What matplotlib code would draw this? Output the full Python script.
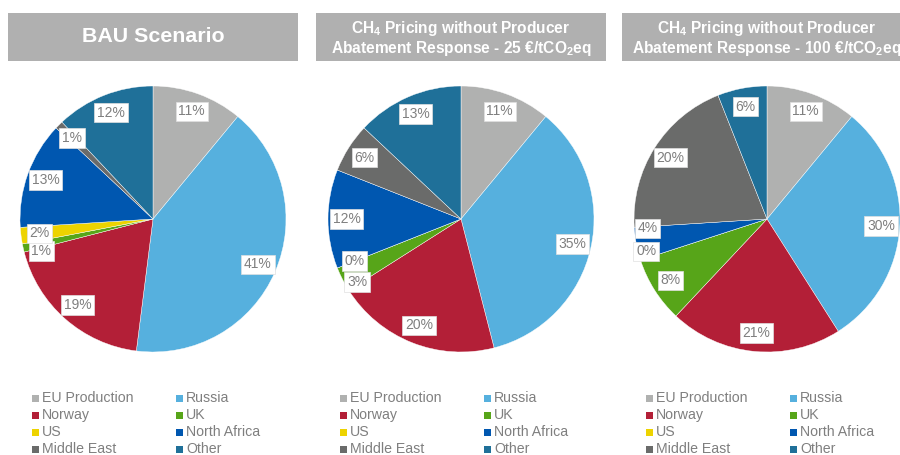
import matplotlib
matplotlib.use("Agg")
import numpy as np
import matplotlib.pyplot as plt
from matplotlib.patches import Rectangle

plt.rcParams["font.family"] = ["Liberation Sans", "DejaVu Sans"]
plt.rcParams["mathtext.fontset"] = "custom"
plt.rcParams["mathtext.rm"] = "Liberation Sans"
plt.rcParams["mathtext.bf"] = "Liberation Sans:bold"

# Daten
categories = ["EU Production", "Russia", "Norway", "UK", "US",
              "North Africa", "Middle East", "Other"]
colors = ["#B0B1B0", "#56B0DE", "#B31F37", "#57A519", "#EDD300",
          "#0057B0", "#6A6B6A", "#1F7099"]

titles = ["BAU Scenario",
          "CH$_\\mathbf{4}$ Pricing without Producer\nAbatement Response - 25 €/tCO$_\\mathbf{2}$eq",
          "CH$_\\mathbf{4}$ Pricing without Producer\nAbatement Response - 100 €/tCO$_\\mathbf{2}$eq"]

bau = [11, 41, 19, 1, 2, 13, 1, 12]
price_25 = [11, 35, 20, 3, 0, 12, 6, 13]
price_100 = [11, 30, 21, 8, 0, 4, 20, 6]

shares = [bau, price_25, price_100]

W, H = 900, 455
centers_x = [153, 461, 767]
cy = 219
r = 133
grey_txt = "#7F7F7F"

# Verschiebung einzelner Beschriftungen (Pixel, y nach unten)
nudges = [{3: (0, 7)}, {3: (-2, 11)}, {4: (-12, -3), 5: (-7, -12)}]

fig = plt.figure(figsize=(9, 4.55), dpi=100)

for k in range(3):
    cx = centers_x[k]
    ax = fig.add_axes([(cx - r) / W, (H - cy - r) / H, 2 * r / W, 2 * r / H])
    wedges, _ = ax.pie(shares[k], colors=colors, startangle=90, counterclock=False,
                       radius=1, wedgeprops=dict(linewidth=0.3, edgecolor="white"))
    ax.set_xlim(-1, 1)
    ax.set_ylim(-1, 1)
    ax.set_aspect("equal")
    ax.axis("off")

    total = sum(shares[k])
    cum = np.cumsum([0] + shares[k])
    for i, v in enumerate(shares[k]):
        mid = (cum[i] + cum[i + 1]) / 2 / total
        ang = np.deg2rad(90 - mid * 360)
        x = 0.86 * np.cos(ang)
        y = 0.86 * np.sin(ang)
        dx, dy = nudges[k].get(i, (0, 0))
        x += dx / r
        y -= dy / r
        ax.text(x, y, f"{v}%", ha="center", va="center", fontsize=10, color=grey_txt,
                bbox=dict(boxstyle="square,pad=0.2", fc="white", ec="#E0E0E0", lw=0.5))

    # Titelbox
    bx0 = cx - 145
    fig.add_artist(Rectangle((bx0 / W, (H - 61) / H), 290 / W, 48 / H,
                             transform=fig.transFigure, fc="#B0B0B0", ec="none"))
    if k == 0:
        fig.text(cx / W, (H - 37) / H, titles[k], ha="center", va="center",
                 fontsize=15.4, fontweight="bold", color="white")
    else:
        fig.text(cx / W, (H - 38.5) / H, titles[k], ha="center", va="center",
                 fontsize=11.2, fontweight="bold", color="white", linespacing=1.0)

    # Legende
    for i, name in enumerate(categories):
        row, col = i // 2, i % 2
        sx = cx - 121 + col * 144
        sy = 398 + row * 17
        fig.add_artist(Rectangle((sx / W, (H - sy - 3.5) / H), 7 / W, 7 / H,
                                 transform=fig.transFigure, fc=colors[i], ec="none"))
        fig.text((sx + 10) / W, (H - sy) / H, name, ha="left", va="center",
                 fontsize=10.2, color=grey_txt)

fig.savefig("out.png", dpi=100)
